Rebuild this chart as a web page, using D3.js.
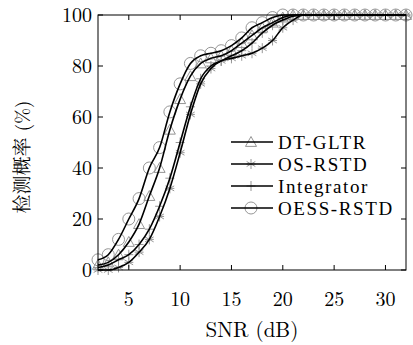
<!DOCTYPE html>
<html>
<head>
<meta charset="utf-8">
<script src="https://cdn.jsdelivr.net/npm/d3@7"></script>
<style>
  body { margin: 0; background: #fff; }
</style>
</head>
<body>
<div id="chart"></div>
<script>
// SNR (dB) sample points
const snr = [2, 3, 4, 5, 6, 7, 8, 9, 10, 11, 12, 13, 14, 15, 16, 17, 18, 19, 20, 21, 22, 23, 24, 25, 26, 27, 28, 29, 30, 31, 32];

// detection probability (%) for each method
const dtGltr = [2, 3, 6, 11, 18, 29, 40, 55, 67, 76, 81, 83, 84, 86, 89, 92, 95, 97, 99, 100, 100, 100, 100, 100, 100, 100, 100, 100, 100, 100, 100];
const osRstd = [0, 0, 1, 3, 7, 12, 21, 32, 46, 61, 73, 79, 82, 83, 84, 85, 87, 90, 95, 98, 100, 100, 100, 100, 100, 100, 100, 100, 100, 100, 100];
const integrator = [1, 2, 4, 6, 10, 16, 25, 36, 50, 64, 75, 80, 82, 84, 86, 89, 93, 96, 98, 99.5, 100, 100, 100, 100, 100, 100, 100, 100, 100, 100, 100];
const oessRstd = [4, 6, 12, 20, 28, 40, 48, 62, 73, 81, 84, 85, 86, 88, 91, 95, 97, 99, 100, 100, 100, 100, 100, 100, 100, 100, 100, 100, 100, 100, 100];

const xTicks = [5, 10, 15, 20, 25, 30];
const yTicks = [0, 20, 40, 60, 80, 100];
const seriesNames = ["DT-GLTR", "OS-RSTD", "Integrator", "OESS-RSTD"];
const seriesMarks = ["triangle", "star", "plus", "circle"];

const width = 413, height = 345;
const margin = {top: 15, right: 7, bottom: 75, left: 98};
const serif = "\"Latin Modern Roman\", \"Liberation Serif\", serif";
const cjk = "\"Noto Serif CJK SC\", \"Noto Sans CJK SC\", serif";

const svg = d3.select("#chart").append("svg")
    .attr("width", width)
    .attr("height", height)
    .style("font-family", serif);

const x = d3.scaleLinear().domain([2, 32]).range([margin.left, width - margin.right]);
const y = d3.scaleLinear().domain([0, 100]).range([height - margin.bottom, margin.top]);

const series = [dtGltr, osRstd, integrator, oessRstd].map((vals, i) => ({
    name: seriesNames[i],
    mark: seriesMarks[i],
    values: snr.map((s, j) => ({x: s, y: vals[j]}))
}));

const markColor = "#8a8a8a";

function drawMark(g, type, cx, cy) {
    if (type === "circle") {
        g.append("circle").attr("cx", cx).attr("cy", cy).attr("r", 6)
            .attr("fill", "none").attr("stroke", markColor).attr("stroke-width", 0.9);
    } else if (type === "triangle") {
        const s = 5.5;
        g.append("path")
            .attr("d", `M${cx},${cy - s}L${cx + s},${cy + s * 0.8}L${cx - s},${cy + s * 0.8}Z`)
            .attr("fill", "none").attr("stroke", markColor).attr("stroke-width", 0.9);
    } else if (type === "plus") {
        g.append("path")
            .attr("d", `M${cx},${cy - 5}V${cy + 5}M${cx - 4.5},${cy}H${cx + 4.5}`)
            .attr("stroke", markColor).attr("stroke-width", 0.9);
    } else if (type === "star") {
        let d = "";
        for (let k = 0; k < 6; k++) {
            const a = Math.PI / 2 + k * Math.PI / 3;
            d += `M${cx},${cy}L${cx + 5 * Math.cos(a)},${cy - 5 * Math.sin(a)}`;
        }
        d += `M${cx - 4.5},${cy}H${cx + 4.5}`;
        g.append("path").attr("d", d).attr("stroke", markColor).attr("stroke-width", 0.9);
    }
}

// markers
const marks = svg.append("g");
series.forEach(s => {
    s.values.forEach(p => drawMark(marks, s.mark, x(p.x), y(p.y)));
});

// lines
const line = d3.line()
    .x(d => x(d.x))
    .y(d => y(d.y))
    .curve(d3.curveMonotoneX);

svg.append("g").selectAll("path")
    .data(series)
    .join("path")
    .attr("fill", "none")
    .attr("stroke", "#000")
    .attr("stroke-width", 1.6)
    .attr("d", d => line(d.values));

// frame and inward ticks on all sides
const x0 = margin.left, x1 = width - margin.right;
const y0 = height - margin.bottom, y1 = margin.top;
const axes = svg.append("g").attr("stroke", "#000").attr("stroke-width", 1);
axes.append("rect").attr("x", x0).attr("y", y1).attr("width", x1 - x0).attr("height", y0 - y1)
    .attr("fill", "none");
xTicks.forEach(t => {
    axes.append("line").attr("x1", x(t)).attr("x2", x(t)).attr("y1", y0).attr("y2", y0 - 5);
    axes.append("line").attr("x1", x(t)).attr("x2", x(t)).attr("y1", y1).attr("y2", y1 + 5);
});
yTicks.forEach(t => {
    axes.append("line").attr("x1", x0).attr("x2", x0 + 5).attr("y1", y(t)).attr("y2", y(t));
    axes.append("line").attr("x1", x1).attr("x2", x1 - 5).attr("y1", y(t)).attr("y2", y(t));
});

// tick labels
svg.append("g").selectAll("text")
    .data(xTicks)
    .join("text")
    .attr("x", d => x(d))
    .attr("y", 306)
    .attr("text-anchor", "middle")
    .style("font-size", "20px")
    .text(d => d);

svg.append("g").selectAll("text")
    .data(yTicks)
    .join("text")
    .attr("x", 92)
    .attr("y", d => y(d) + 7)
    .attr("text-anchor", "end")
    .style("font-size", "20px")
    .text(d => d);

// axis titles
svg.append("text")
    .attr("x", (x0 + x1) / 2)
    .attr("y", 337)
    .attr("text-anchor", "middle")
    .style("font-size", "21px")
    .text("SNR (dB)");

const yTitle = svg.append("text")
    .attr("transform", "translate(29,157) rotate(-90)")
    .attr("text-anchor", "middle")
    .style("font-size", "19px");
yTitle.append("tspan").style("font-family", cjk).text("检测概率");
yTitle.append("tspan").text(" (%)");

// legend (tighter line box font so rows don't collide)
const legendY = [142, 164, 186, 208];
const legend = svg.append("g");
series.forEach((s, i) => {
    const ly = legendY[i];
    drawMark(legend, s.mark, 251, ly);
    legend.append("line")
        .attr("x1", 231).attr("x2", 273)
        .attr("y1", ly).attr("y2", ly)
        .attr("stroke", "#000").attr("stroke-width", 1.6);
    legend.append("text")
        .attr("x", 278)
        .attr("y", ly + 6.5)
        .style("font-family", "\"Liberation Serif\", serif")
        .style("font-size", "19px")
        .style("letter-spacing", "1.6px")
        .text(s.name);
});
</script>
</body>
</html>
